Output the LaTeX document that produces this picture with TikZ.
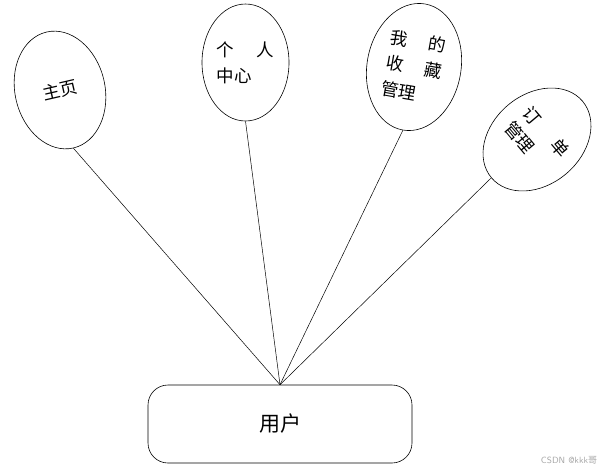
\documentclass[tikz,border=0pt]{standalone}
\usepackage{fontspec}
\newfontfamily\cjk{Noto Sans CJK SC}
\usetikzlibrary{shapes.geometric}

\begin{document}
\begin{tikzpicture}[x=1pt,y=-1pt,
  bubble/.style={ellipse,draw,line width=0.6pt,inner sep=0pt,align=left,
    font=\cjk\fontsize{17.5}{26}\selectfont},
  userbox/.style={draw,line width=0.6pt,rounded corners=20pt,minimum width=264pt,
    minimum height=78pt,font=\cjk\fontsize{21}{24}\selectfont},
  link/.style={draw,line width=0.5pt}]
\useasboundingbox (0,0) rectangle (610,471);
% menu bubbles
\node[bubble,minimum width=90pt,minimum height=119pt,rotate=13] (home) at (60,90) {主页};
\node[bubble,minimum width=87pt,minimum height=117pt] (profile) at (245.5,62.5) {个\hspace{23pt}人\\中心};
\node[bubble,minimum width=94pt,minimum height=128pt,rotate=-10] (favs) at (414,67) {我\hspace{21pt}的\\收\hspace{21pt}藏\\管理};
\node[bubble,minimum width=90pt,minimum height=119pt,rotate=-50,
  font=\cjk\fontsize{17.5}{24}\selectfont] (orders) at (537,139.5) {订\hspace{25pt}单\\管理};
% user
\node[userbox] (user) at (280,424) {用户};
\draw[link] (home.south) -- (user.north);
\draw[link] (profile.south) -- (user.north);
\draw[link] (favs.south) -- (user.north);
\draw[link] (orders.south) -- (user.north);
\node[font=\sffamily\fontsize{9}{9}\selectfont,text=gray!70] (mark) at (569,460) {CSDN @kkk{\cjk 哥}};
\end{tikzpicture}
\end{document}
